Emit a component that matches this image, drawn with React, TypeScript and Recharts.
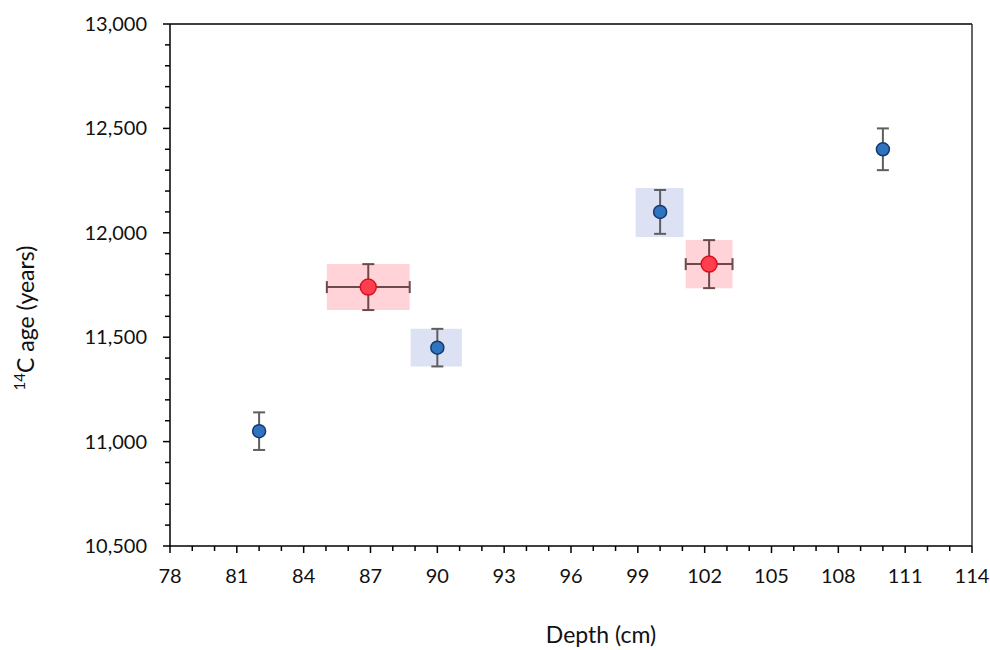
import React from 'react';
import {
  ScatterChart, Scatter, XAxis, YAxis, ErrorBar, ReferenceArea, ReferenceLine,
} from 'recharts';

// Samples (blue)
const blueDepth = [82, 90, 100, 110];
const blueAge = [11050, 11450, 12100, 12400];
const blueAgeErr = [90, 90, 105, 100];

// Samples (red) with depth uncertainty
const redDepth = [86.9, 102.2];
const redAge = [11740, 11850];
const redAgeErr = [110, 115];
const redDepthErr = [1.86, 1.05];

// Shaded boxes behind the blue samples at 90 and 100 cm
const blueBoxX1 = [88.8, 98.9];
const blueBoxX2 = [91.1, 101.05];
const blueBoxY1 = [11360, 11980];
const blueBoxY2 = [11540, 12215];

// Axis ticks
const xTicks = Array.from({ length: 37 }, (_, i) => 78 + i);
const yTicks = Array.from({ length: 26 }, (_, i) => 10500 + i * 100);

const blueData = blueDepth.map((d, i) => ({ depth: d, age: blueAge[i], ageErr: blueAgeErr[i] }));
const redData = redDepth.map((d, i) => ({
  depth: d, age: redAge[i], ageErr: redAgeErr[i], depthErr: redDepthErr[i],
}));

const FONT = 'Lato, "Noto Sans", sans-serif';

const XTick = (props: any) => {
  const { x, y, payload } = props;
  const v = payload.value as number;
  const major = (v - 78) % 3 === 0;
  return (
    <g>
      <line x1={x} x2={x} y1={y} y2={y + (major ? 7 : 5)} stroke="#000" strokeWidth={1.5} />
      {major && (
        <text x={x} y={y + 37} textAnchor="middle" fontFamily={FONT} fontSize={20} fill="#111">
          {v}
        </text>
      )}
    </g>
  );
};

const YTick = (props: any) => {
  const { x, y, payload } = props;
  const v = payload.value as number;
  const major = v % 500 === 0;
  return (
    <g>
      <line x1={x} x2={x - (major ? 7 : 5)} y1={y} y2={y} stroke="#000" strokeWidth={1.5} />
      {major && (
        <text x={x - 23} y={y + 7} textAnchor="end" fontFamily={FONT} fontSize={20} fill="#111">
          {v.toLocaleString('en-US')}
        </text>
      )}
    </g>
  );
};

const BlueDot = (props: any) => (
  <circle cx={props.cx} cy={props.cy} r={6.5} fill="#2F74BE" stroke="#17386F" strokeWidth={1.5} />
);
const RedDot = (props: any) => (
  <circle cx={props.cx} cy={props.cy} r={8} fill="#FF3F4E" stroke="#D9101C" strokeWidth={1.5} />
);

const YLabel = (props: any) => {
  const vb = props.viewBox || { x: 0, y: 24, width: 170, height: 522 };
  const cx = vb.x + 34;
  const cy = vb.y + vb.height / 2 + 33;
  return (
    <text
      x={cx}
      y={cy}
      transform={`rotate(-90 ${cx} ${cy})`}
      textAnchor="middle"
      fontFamily={FONT}
      fontSize={23}
      fill="#111"
    >
      <tspan fontSize={15} dy={-9}>14</tspan>
      <tspan dy={9}>C age (years)</tspan>
    </text>
  );
};

const XLabel = (props: any) => {
  const vb = props.viewBox || { x: 170, y: 546, width: 802, height: 104 };
  return (
    <text
      x={vb.x + vb.width / 2 + 30}
      y={vb.y + 97}
      textAnchor="middle"
      fontFamily={FONT}
      fontSize={23}
      fill="#111"
    >
      Depth (cm)
    </text>
  );
};

export default function App() {
  return (
    <div style={{ position: 'absolute', left: 0, top: 0, background: '#fff' }}>
      <ScatterChart width={990} height={650} margin={{ top: 24, right: 18, bottom: 0, left: 0 }}>
        <XAxis
          type="number"
          dataKey="depth"
          domain={[78, 114]}
          ticks={xTicks}
          interval={0}
          height={104}
          tickSize={0}
          tickMargin={0}
          tickLine={false}
          tick={<XTick />}
          axisLine={{ stroke: '#000', strokeWidth: 1.5 }}
          allowDataOverflow
          label={<XLabel />}
        />
        <YAxis
          type="number"
          dataKey="age"
          domain={[10500, 13000]}
          ticks={yTicks}
          interval={0}
          width={170}
          tickSize={0}
          tickMargin={0}
          tickLine={false}
          tick={<YTick />}
          axisLine={{ stroke: '#000', strokeWidth: 1.5 }}
          allowDataOverflow
          label={<YLabel />}
        />
        <ReferenceLine y={13000} stroke="#000" strokeWidth={1.5} />
        <ReferenceLine x={114} stroke="#333" strokeWidth={1.5} />
        {redData.map((d, i) => (
          <ReferenceArea
            key={`r${i}`}
            x1={d.depth - d.depthErr}
            x2={d.depth + d.depthErr}
            y1={d.age - d.ageErr}
            y2={d.age + d.ageErr}
            fill="#FFD3D7"
            fillOpacity={1}
            stroke="none"
          />
        ))}
        {blueBoxX1.map((x1, i) => (
          <ReferenceArea
            key={`b${i}`}
            x1={x1}
            x2={blueBoxX2[i]}
            y1={blueBoxY1[i]}
            y2={blueBoxY2[i]}
            fill="#DCE2F3"
            fillOpacity={1}
            stroke="none"
          />
        ))}
        <Scatter data={blueData} shape={<BlueDot />} isAnimationActive={false}>
          <ErrorBar dataKey="ageErr" direction="y" width={6} stroke="#5E5E5E" strokeWidth={2} />
        </Scatter>
        <Scatter data={redData} shape={<RedDot />} isAnimationActive={false}>
          <ErrorBar dataKey="ageErr" direction="y" width={6} stroke="#6B4A4C" strokeWidth={2} />
          <ErrorBar dataKey="depthErr" direction="x" width={6} stroke="#6B4A4C" strokeWidth={2} />
        </Scatter>
      </ScatterChart>
    </div>
  );
}
